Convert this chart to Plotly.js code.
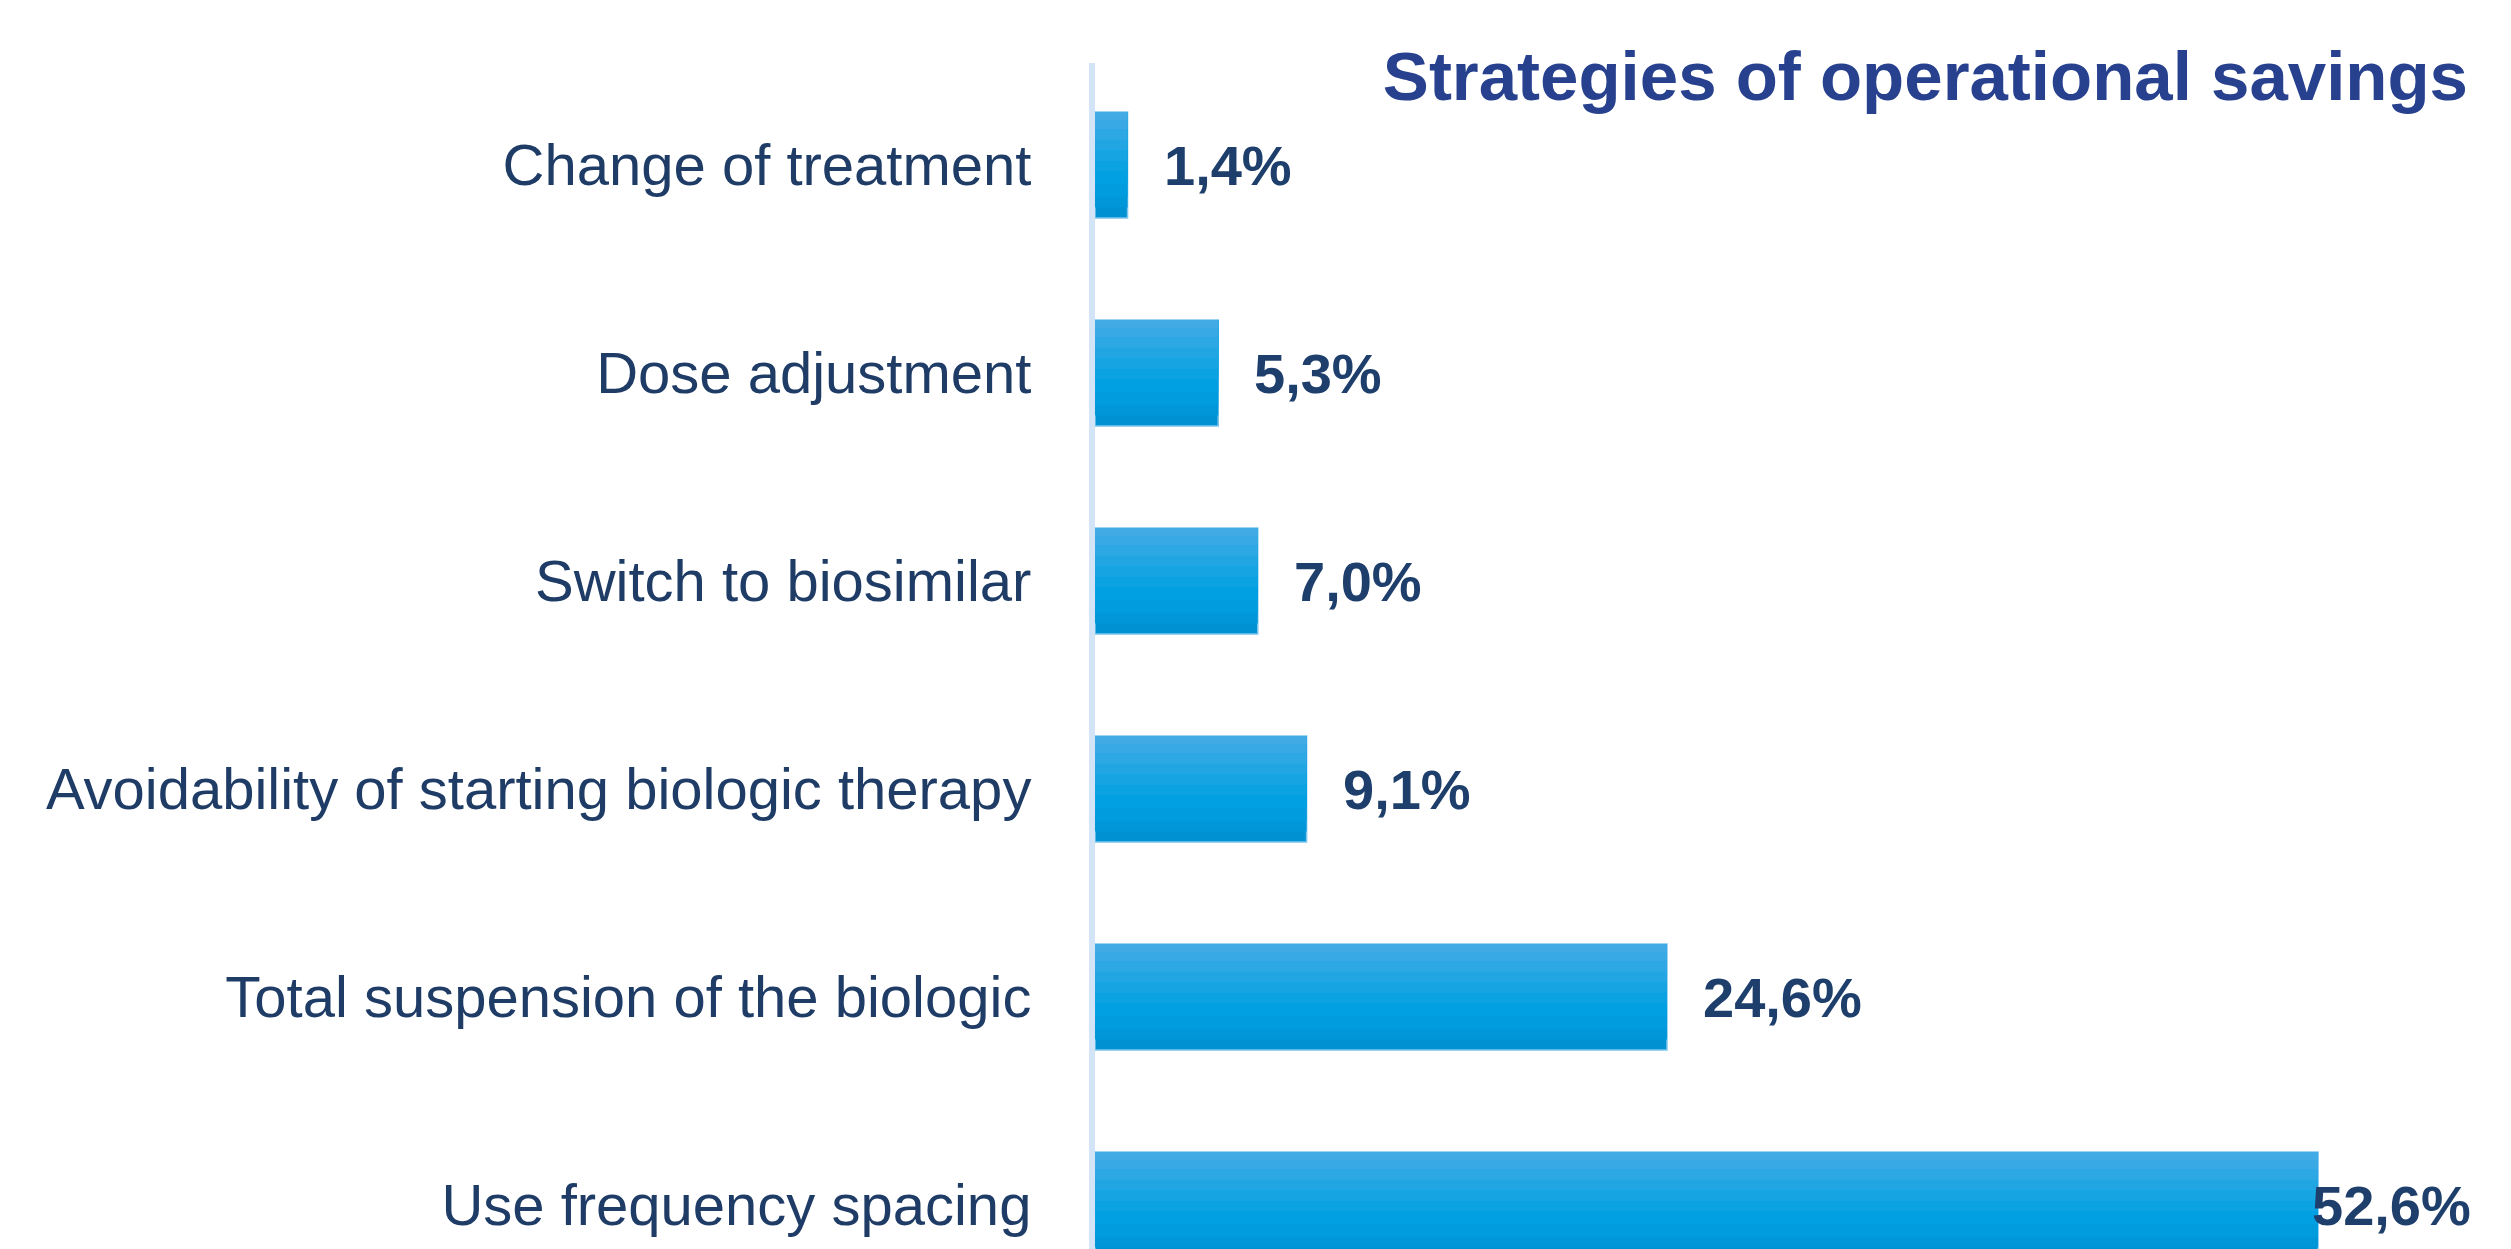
<!DOCTYPE html>
<html>
<head>
<meta charset="utf-8">
<script src="https://cdn.plot.ly/plotly-3.0.1.min.js"></script>
<style>html,body{margin:0;padding:0;background:#fff;}#chart{width:2511px;height:1249px;}</style>
</head>
<body>
<div id="chart"></div>
<script>
// ---- data ----
const categories = [
  "Change of treatment",
  "Dose adjustment",
  "Switch to biosimilar",
  "Avoidability of starting biologic therapy",
  "Total suspension of the biologic",
  "Use frequency spacing"
];
const values = [1.4, 5.3, 7.0, 9.1, 24.6, 52.6];
const valueLabels = ["1,4%", "5,3%", "7,0%", "9,1%", "24,6%", "52,6%"];
const chartTitle = "Strategies of operational savings";

// ---- styling ----
const W = 2511, H = 1249;
const marginL = 1095, marginT = 63;
const xMax = 60.9;
const barW = 0.51;
const gradientBands = [
  {frac: 1.00, color: "#0091d3"},
  {frac: 0.90, color: "#0097d9"},
  {frac: 0.80, color: "#009cde"},
  {frac: 0.68, color: "#00a0e2"},
  {frac: 0.56, color: "#0ba2e2"},
  {frac: 0.46, color: "#16a4e3"},
  {frac: 0.36, color: "#22a6e3"},
  {frac: 0.26, color: "#2ea8e4"},
  {frac: 0.16, color: "#38a9e4"},
  {frac: 0.07, color: "#42abe5"}
];

const traces = gradientBands.map((b, i) => ({
  type: "bar",
  orientation: "h",
  y: categories,
  x: values,
  width: barW * b.frac,
  offset: -barW / 2,
  marker: {
    color: b.color,
    line: i === 0 ? {color: "#7cc5ee", width: 1.5} : {width: 0}
  },
  hoverinfo: "skip",
  showlegend: false
}));

const pxPerUnit = (W - marginL) / xMax;
const labelFontSize = 56;
const labelFont = {family: "Liberation Sans, Arial, sans-serif", size: labelFontSize, color: "#1e3f6c", weight: "bold"};
const annotations = values.map((v, i) => {
  const estWidth = valueLabels[i].length * labelFontSize * 0.57;
  const fits = v * pxPerUnit + 34 + estWidth < (W - marginL) - 10;
  return fits ? {
    x: v, y: categories[i], xref: "x", yref: "y",
    text: valueLabels[i], showarrow: false,
    xanchor: "left", yanchor: "middle", xshift: 34,
    font: labelFont
  } : {
    x: xMax, y: categories[i], xref: "x", yref: "y",
    text: valueLabels[i], showarrow: false,
    xanchor: "right", yanchor: "middle", xshift: -38,
    font: labelFont
  };
});

const layout = {
  width: W, height: H,
  margin: {l: marginL, r: 0, t: marginT, b: 0, pad: 0},
  paper_bgcolor: "#ffffff",
  plot_bgcolor: "#ffffff",
  barmode: "overlay",
  title: {
    text: "<b>" + chartTitle + "</b>",
    xref: "container", yref: "container",
    x: 2468 / W, xanchor: "right",
    y: 1 - 76 / H, yanchor: "middle",
    font: {family: "Liberation Sans, Arial, sans-serif", size: 69, color: "#27418f"}
  },
  xaxis: {
    range: [0, xMax],
    showgrid: false, zeroline: false, showline: false,
    showticklabels: false, ticks: ""
  },
  yaxis: {
    type: "category",
    categoryorder: "array",
    categoryarray: categories,
    range: [5.2115, -0.4904],
    showgrid: false, zeroline: false,
    showline: true, linecolor: "#d2e4f6", linewidth: 6,
    ticks: "", ticklabelstandoff: 46,
    tickfont: {family: "Liberation Sans, Arial, sans-serif", size: 58, color: "#1f3c66"}
  },
  annotations: annotations
};

Plotly.newPlot("chart", traces, layout, {displayModeBar: false, staticPlot: true});
</script>
</body>
</html>
